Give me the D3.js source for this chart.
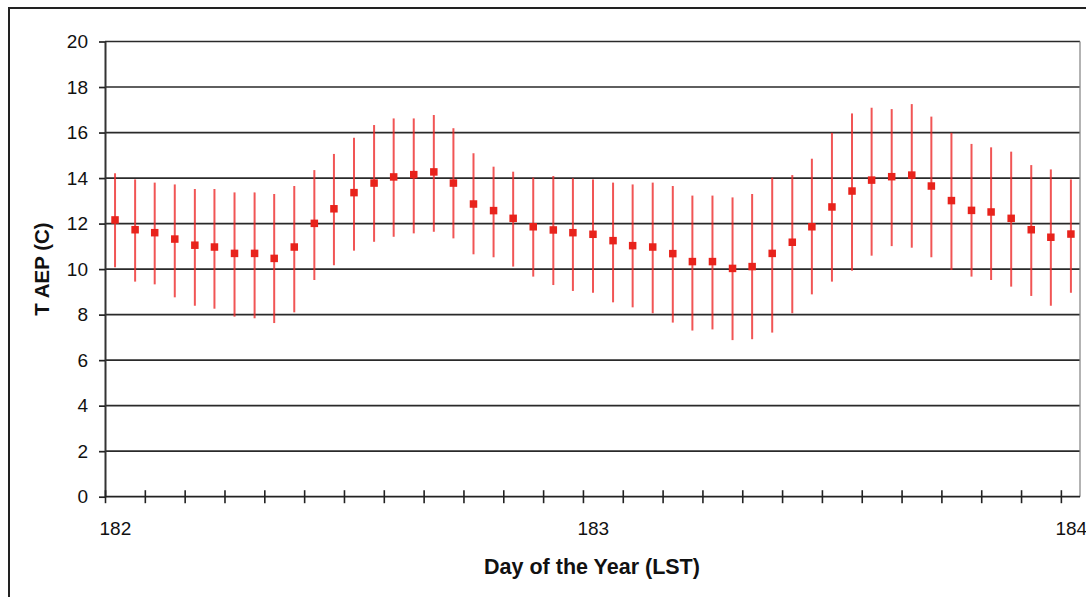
<!DOCTYPE html>
<html>
<head>
<meta charset="utf-8">
<script src="https://cdn.jsdelivr.net/npm/d3@7"></script>
<style>
    html, body { margin: 0; padding: 0; background: #fff; }
    svg { display: block; font-family: "Liberation Sans", Arial, sans-serif; }
</style>
</head>
<body>
<svg id="chart" width="1086" height="597"></svg>
<script>
// Day of year (LST), hourly mid-points
const days = [
    182.021, 182.063, 182.104, 182.146, 182.188, 182.229, 182.271, 182.313,
    182.354, 182.396, 182.438, 182.479, 182.521, 182.563, 182.604, 182.646,
    182.688, 182.729, 182.771, 182.813, 182.854, 182.896, 182.938, 182.979,
    183.021, 183.063, 183.104, 183.146, 183.188, 183.229, 183.271, 183.313,
    183.354, 183.396, 183.438, 183.479, 183.521, 183.563, 183.604, 183.646,
    183.688, 183.729, 183.771, 183.813, 183.854, 183.896, 183.938, 183.979,
    184.021
];

// mean T AEP (C)
const meanT = [
    12.16, 11.73, 11.60, 11.32, 11.05, 10.97, 10.69, 10.69,
    10.47, 10.97, 12.01, 12.65, 13.36, 13.78, 14.05, 14.15,
    14.27, 13.78, 12.86, 12.57, 12.23, 11.86, 11.72, 11.60,
    11.53, 11.25, 11.03, 10.97, 10.68, 10.33, 10.33, 10.03,
    10.11, 10.69, 11.18, 11.86, 12.73, 13.43, 13.91, 14.06,
    14.13, 13.65, 13.01, 12.58, 12.51, 12.23, 11.73, 11.40,
    11.54
];

// upper end of the bars
const highT = [
    14.21, 13.94, 13.80, 13.72, 13.52, 13.52, 13.37, 13.37,
    13.30, 13.65, 14.35, 15.06, 15.77, 16.33, 16.62, 16.62,
    16.77, 16.19, 15.09, 14.50, 14.28, 14.02, 14.09, 13.99,
    13.94, 13.80, 13.72, 13.80, 13.65, 13.23, 13.23, 13.15,
    13.30, 14.02, 14.13, 14.85, 15.99, 16.84, 17.09, 17.03,
    17.25, 16.70, 15.99, 15.50, 15.35, 15.16, 14.57, 14.38,
    13.94
];

// lower end of the bars
const lowT = [
    10.08, 9.45, 9.33, 8.76, 8.39, 8.26, 7.91, 7.84,
    7.63, 8.10, 9.52, 10.17, 10.81, 11.20, 11.42, 11.57,
    11.64, 11.35, 10.65, 10.52, 10.11, 9.67, 9.30, 9.04,
    8.96, 8.54, 8.32, 8.06, 7.65, 7.30, 7.35, 6.88,
    6.92, 7.21, 8.06, 8.89, 9.45, 9.93, 10.59, 11.01,
    10.94, 10.52, 9.96, 9.67, 9.52, 9.23, 8.82, 8.39,
    8.96
];

const yTicks = [0, 2, 4, 6, 8, 10, 12, 14, 16, 18, 20];
const xLabels = [182, 183, 184];

const svg = d3.select('#chart');

// plot area edges
const plotLeft = 105, plotRight = 1080, plotTop = 41.5, plotBottom = 496.7;

const x = d3.scaleLinear().domain([182, 184.04]).range([plotLeft, plotRight]);
const y = d3.scaleLinear().domain([0, 20]).range([plotBottom, plotTop]);

// outer frame (runs off the right and bottom of the picture)
svg.append('rect')
    .attr('x', 9).attr('y', 8)
    .attr('width', 1200).attr('height', 700)
    .attr('fill', 'none')
    .attr('stroke', '#222')
    .attr('stroke-width', 2);

// horizontal grid lines
svg.append('g')
    .selectAll('line')
    .data(yTicks.filter(d => d > 0))
    .enter().append('line')
    .attr('x1', plotLeft).attr('x2', plotRight)
    .attr('y1', d => y(d)).attr('y2', d => y(d))
    .attr('stroke', '#2a2a2a')
    .attr('stroke-width', 1.7);

// right border of plot area
svg.append('line')
    .attr('x1', plotRight).attr('x2', plotRight)
    .attr('y1', plotTop).attr('y2', plotBottom)
    .attr('stroke', '#8a8a8a')
    .attr('stroke-width', 1.3);

// y axis
const yAxis = svg.append('g')
    .attr('transform', `translate(${plotLeft},0)`)
    .call(d3.axisLeft(y).tickValues(yTicks).tickSize(6).tickPadding(11).tickSizeOuter(0));
yAxis.select('.domain').attr('stroke', '#333').attr('stroke-width', 2);
yAxis.selectAll('.tick line').attr('stroke', '#222').attr('stroke-width', 1.7);
yAxis.selectAll('.tick text')
    .attr('font-size', 19)
    .attr('fill', '#111')
    .attr('font-family', '"Liberation Sans", Arial, sans-serif');

// x axis: ticks every two hours, crossing the axis line
const xTickValues = d3.range(0, 25).map(i => 182 + i / 12);
const xAxis = svg.append('g')
    .attr('transform', `translate(0,${plotBottom})`)
    .call(d3.axisBottom(x).tickValues(xTickValues).tickSizeOuter(0).tickFormat(''));
xAxis.select('.domain').attr('stroke', '#222').attr('stroke-width', 1.8)
    .attr('d', `M${plotLeft},0H${plotRight}`);
xAxis.selectAll('.tick line')
    .attr('y1', -6.5).attr('y2', 6.5)
    .attr('stroke', '#222').attr('stroke-width', 1.6);

svg.append('g')
    .selectAll('text')
    .data(xLabels)
    .enter().append('text')
    .attr('x', d => x(d) - 5.5)
    .attr('y', plotBottom + 38)
    .attr('font-size', 19)
    .attr('fill', '#111')
    .text(d => d);

// error bars
svg.append('g')
    .selectAll('line')
    .data(days)
    .enter().append('line')
    .attr('x1', d => x(d)).attr('x2', d => x(d))
    .attr('y1', (d, i) => y(highT[i]))
    .attr('y2', (d, i) => y(lowT[i]))
    .attr('stroke', '#ee2a2a')
    .attr('stroke-opacity', 0.8)
    .attr('stroke-width', 2);

// mean markers
const ms = 7.5;
svg.append('g')
    .selectAll('rect')
    .data(days)
    .enter().append('rect')
    .attr('x', d => x(d) - ms / 2)
    .attr('y', (d, i) => y(meanT[i]) - ms / 2)
    .attr('width', ms).attr('height', ms)
    .attr('fill', '#e8231c');

// axis titles
svg.append('text')
    .attr('x', 592)
    .attr('y', 574)
    .attr('text-anchor', 'middle')
    .attr('font-size', 21.5)
    .attr('font-weight', 'bold')
    .attr('fill', '#111')
    .text('Day of the Year (LST)');

svg.append('text')
    .attr('transform', `translate(49,${(plotTop + plotBottom) / 2}) rotate(-90)`)
    .attr('text-anchor', 'middle')
    .attr('font-size', 20.5)
    .attr('font-weight', 'bold')
    .attr('fill', '#111')
    .text('T AEP (C)');
</script>
</body>
</html>
